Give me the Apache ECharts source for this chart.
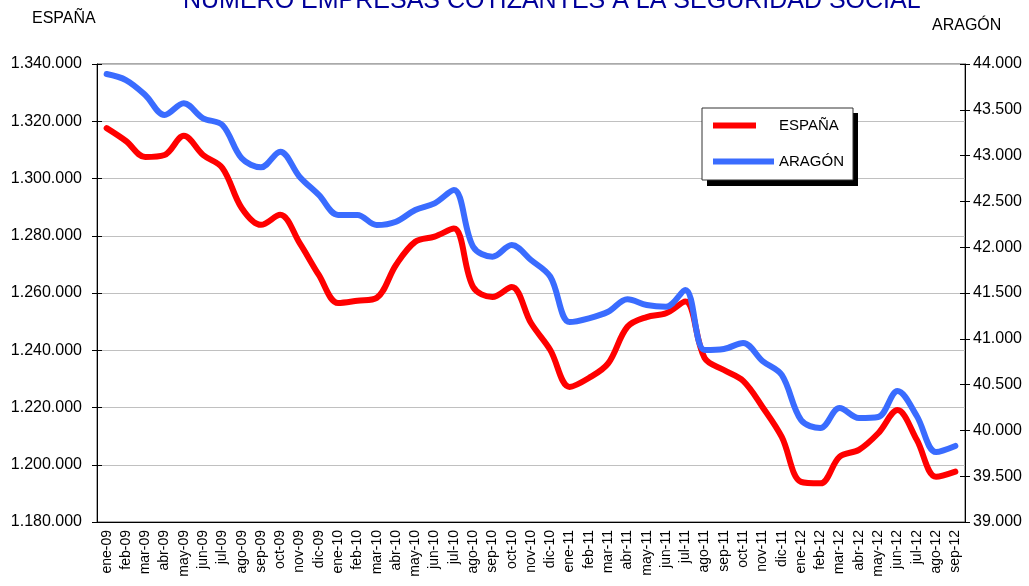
<!DOCTYPE html>
<html><head><meta charset="utf-8">
<script src="https://cdn.jsdelivr.net/npm/echarts@6/dist/echarts.min.js"></script>
<style>html,body{margin:0;padding:0;background:#fff}#c{width:1029px;height:586px}</style>
</head><body><div id="c"></div>
<script>
const months = ['ene-09','feb-09','mar-09','abr-09','may-09','jun-09','jul-09','ago-09','sep-09','oct-09','nov-09','dic-09',
'ene-10','feb-10','mar-10','abr-10','may-10','jun-10','jul-10','ago-10','sep-10','oct-10','nov-10','dic-10',
'ene-11','feb-11','mar-11','abr-11','may-11','jun-11','jul-11','ago-11','sep-11','oct-11','nov-11','dic-11',
'ene-12','feb-12','mar-12','abr-12','may-12','jun-12','jul-12','ago-12','sep-12'];
const espana = [1317600,1313100,1307500,1308200,1314900,1308200,1303700,1289700,1283800,1287300,1277500,1266300,
1256500,1257300,1258300,1269800,1277900,1279700,1282500,1262100,1258600,1262100,1249500,1240100,
1227200,1230300,1235400,1248200,1251600,1252900,1257000,1237300,1233100,1229300,1220200,1209700,
1194000,1193500,1202800,1205200,1211000,1219100,1208700,1195800,1197600];
const aragon = [43891,43825,43662,43443,43571,43407,43334,42971,42872,43043,42770,42570,
42352,42352,42242,42278,42406,42479,42624,42006,41896,42024,41860,41678,
41183,41224,41296,41431,41369,41350,41533,40878,40889,40954,40758,40605,
40114,40026,40245,40135,40146,40430,40157,39764,39830];
const seriesNames = ['ESPAÑA','ARAGÓN'];
const titleText = 'NÚMERO EMPRESAS COTIZANTES A LA SEGURIDAD SOCIAL';

const FF = 'Liberation Sans, Arial, sans-serif';
const fmt = v => String(v).replace(/\B(?=(\d{3})+(?!\d))/g, '.');
const chart = echarts.init(document.getElementById('c'));
chart.setOption({
  animation: false,
  backgroundColor: '#fff',
  title: {text: titleText, left: 178, top: -16,
    textStyle: {fontSize: 25, fontWeight: 'normal', color: '#000099', fontFamily: FF}},
  graphic: [
    {type: 'text', left: 32, top: 11, style: {text: 'ESPAÑA', font: '16px ' + FF, fill: '#000'}},
    {type: 'text', left: 932, top: 18, style: {text: 'ARAGÓN', font: '16px ' + FF, fill: '#000'}},
    {type: 'rect', left: 707, top: 113, z: 1, shape: {width: 151, height: 73}, style: {fill: '#000'}}
  ],
  grid: {left: 97, right: 64, top: 64, bottom: 64, show: true, borderColor: '#555', borderWidth: 1, outerBoundsMode: 'none'},
  legend: {left: 702, top: 108, orient: 'vertical', itemWidth: 61, itemHeight: 6,
    itemGap: 21, padding: [10, 9, 11, 11], backgroundColor: '#fff', z: 5,
    borderColor: '#333', borderWidth: 1,
    textStyle: {fontSize: 15, color: '#000', fontFamily: FF},
    data: [
      {name: seriesNames[0], icon: 'path://M0,0H43V6H0ZM61,6L61,6'},
      {name: seriesNames[1], icon: 'rect'}
    ]},
  xAxis: [
    {type: 'category', data: months, boundaryGap: true, position: 'bottom',
      axisLine: {lineStyle: {color: '#000'}},
      axisTick: {interval: 0, length: 5, lineStyle: {color: '#000'}},
      axisLabel: {interval: 0, rotate: 90, margin: 8, fontSize: 14, color: '#000', fontFamily: FF},
      splitLine: {show: false}},
    {type: 'category', data: months, boundaryGap: true, position: 'bottom',
      axisLine: {show: false},
      axisTick: {interval: 0, inside: true, length: 5, lineStyle: {color: '#000'}},
      axisLabel: {show: false}, splitLine: {show: false}}
  ],
  yAxis: [
    {type: 'value', position: 'left', min: 1180000, max: 1340000, interval: 20000,
      axisLine: {show: true, lineStyle: {color: '#000'}},
      axisTick: {show: true, length: 5, lineStyle: {color: '#000'}},
      axisLabel: {margin: 15, fontSize: 16, color: '#000', fontFamily: FF, formatter: fmt},
      splitLine: {show: true, lineStyle: {color: '#c0c0c0'}}},
    {type: 'value', position: 'right', min: 39000, max: 44000, interval: 500,
      axisLine: {show: true, lineStyle: {color: '#000'}},
      axisTick: {show: true, length: 5, lineStyle: {color: '#000'}},
      axisLabel: {margin: 8, fontSize: 16, color: '#000', fontFamily: FF, formatter: fmt},
      splitLine: {show: false}},
    {type: 'value', position: 'left', min: 1180000, max: 1340000, interval: 20000,
      axisLine: {show: false}, axisTick: {show: true, inside: true, length: 5, lineStyle: {color: '#000'}},
      axisLabel: {show: false}, splitLine: {show: false}},
    {type: 'value', position: 'right', min: 39000, max: 44000, interval: 500,
      axisLine: {show: false}, axisTick: {show: true, inside: true, length: 5, lineStyle: {color: '#000'}},
      axisLabel: {show: false}, splitLine: {show: false}}
  ],
  series: [
    {name: seriesNames[0], type: 'line', xAxisIndex: 0, yAxisIndex: 0, data: espana, smooth: 0.35,
      symbol: 'none', color: '#ff0000', lineStyle: {width: 6, color: '#ff0000', cap: 'round', join: 'round'}},
    {name: seriesNames[1], type: 'line', xAxisIndex: 0, yAxisIndex: 1, data: aragon, smooth: 0.35,
      symbol: 'none', color: '#3a6cff', lineStyle: {width: 6, color: '#3a6cff', cap: 'round', join: 'round'}}
  ]
});
</script></body></html>
